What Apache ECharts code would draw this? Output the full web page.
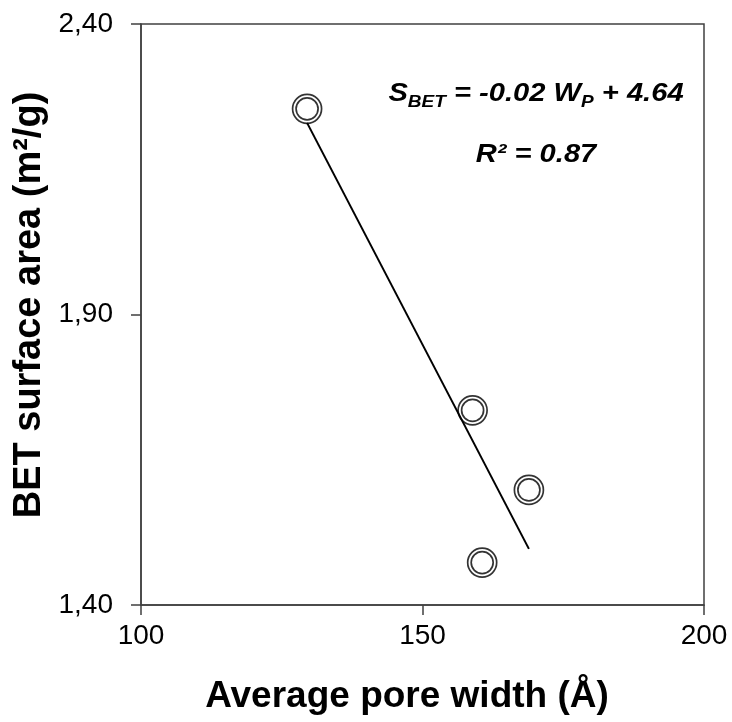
<!DOCTYPE html>
<html>
<head>
<meta charset="utf-8">
<title>BET surface area vs. average pore width</title>
<script src="https://cdn.jsdelivr.net/npm/echarts@6/dist/echarts.min.js"></script>
<style>
  html, body { margin: 0; padding: 0; background: #fff; }
  #chart { width: 732px; height: 722px; }
</style>
</head>
<body>
<div id="chart"></div>
<script>
// Measured samples: average pore width (Å) and BET surface area (m²/g)
const poreWidth = [129.5, 158.9, 168.9, 160.6];
const surfaceArea = [2.254, 1.735, 1.598, 1.473];

// Axis ticks
const xTicks = [100, 150, 200];
const yTicks = [1.40, 1.90, 2.40];

const FONT = "'Liberation Sans', Arial, Helvetica, sans-serif";
const INK = '#000';
const FRAME = '#404040';

// Least-squares linear fit of surface area against pore width
function linearFit(xs, ys) {
  const n = xs.length;
  const mx = xs.reduce((a, b) => a + b, 0) / n;
  const my = ys.reduce((a, b) => a + b, 0) / n;
  let sxy = 0, sxx = 0, syy = 0;
  for (let i = 0; i < n; i++) {
    sxy += (xs[i] - mx) * (ys[i] - my);
    sxx += (xs[i] - mx) ** 2;
    syy += (ys[i] - my) ** 2;
  }
  const slope = sxy / sxx;
  return { slope, intercept: my - slope * mx, r2: (sxy * sxy) / (sxx * syy) };
}

const fit = linearFit(poreWidth, surfaceArea);
const xMin = Math.min(...poreWidth);
const xMax = Math.max(...poreWidth);
const trend = [
  [xMin, fit.intercept + fit.slope * xMin],
  [xMax, fit.intercept + fit.slope * xMax]
];
const points = poreWidth.map((w, i) => [w, surfaceArea[i]]);

const slopeText = fit.slope.toFixed(2);
const interceptText = fit.intercept.toFixed(2);
const r2Text = fit.r2.toFixed(2);

const chart = echarts.init(document.getElementById('chart'), null, { renderer: 'canvas' });

const axisCommon = {
  type: 'value',
  axisLine: { show: true, onZero: false, lineStyle: { color: FRAME, width: 1.5 } },
  axisTick: { show: true, inside: false, length: 10, lineStyle: { color: FRAME, width: 1.5 } },
  splitLine: { show: false },
  axisLabel: { color: INK, fontSize: 28, fontFamily: FONT }
};

const annoBold = { fontFamily: FONT, fontWeight: 'bold', fontStyle: 'italic', fill: INK };

chart.setOption({
  backgroundColor: '#fff',
  animation: false,
  grid: {
    left: 141, right: 28, top: 24, bottom: 117,
    show: true, borderColor: FRAME, borderWidth: 1.5, backgroundColor: 'transparent'
  },
  xAxis: Object.assign({}, axisCommon, {
    min: xTicks[0], max: xTicks[xTicks.length - 1], interval: xTicks[1] - xTicks[0],
    axisLabel: Object.assign({}, axisCommon.axisLabel, { margin: 17 })
  }),
  yAxis: Object.assign({}, axisCommon, {
    min: yTicks[0], max: yTicks[yTicks.length - 1], interval: 0.5,
    axisLabel: Object.assign({}, axisCommon.axisLabel, {
      margin: 28,
      formatter: v => v.toFixed(2).replace('.', ',')
    })
  }),
  series: [
    {
      type: 'scatter', name: 'outer ring', data: points, symbol: 'circle', symbolSize: 29,
      itemStyle: { color: '#fff', borderColor: INK, borderWidth: 1.7 }, z: 2
    },
    {
      type: 'scatter', name: 'inner ring', data: points, symbol: 'circle', symbolSize: 22,
      itemStyle: { color: '#fff', borderColor: INK, borderWidth: 1.7 }, z: 3
    },
    {
      type: 'line', name: 'linear fit', data: trend, showSymbol: false, symbol: 'none',
      lineStyle: { color: INK, width: 2 }, z: 4, silent: true
    }
  ],
  graphic: [
    {
      type: 'text', x: 407, y: 697,
      style: {
        text: 'Average pore width (Å)', fill: INK,
        font: 'bold 37px ' + FONT, textAlign: 'center', textVerticalAlign: 'middle',
        align: 'center', verticalAlign: 'middle'
      }
    },
    {
      type: 'text', x: 30, y: 305, rotation: Math.PI / 2,
      style: {
        text: 'BET surface area (m²/g)', fill: INK,
        font: 'bold 38px ' + FONT, textAlign: 'center', textVerticalAlign: 'middle',
        align: 'center', verticalAlign: 'middle'
      }
    },
    {
      type: 'text', x: 536, y: 94, scaleX: 1.12,
      style: {
        text: '{m|S}{s|BET}{m| = ' + slopeText + ' W}{s|P}{m| + ' + interceptText + '}',
        textAlign: 'center', textVerticalAlign: 'middle', align: 'center', verticalAlign: 'middle',
        rich: {
          m: Object.assign({}, annoBold, { fontSize: 26, lineHeight: 34, verticalAlign: 'middle' }),
          s: Object.assign({}, annoBold, { fontSize: 17, lineHeight: 14, verticalAlign: 'bottom' })
        }
      }
    },
    {
      type: 'text', x: 536, y: 155, scaleX: 1.12,
      style: {
        text: '{m|R² = ' + r2Text + '}',
        textAlign: 'center', textVerticalAlign: 'middle', align: 'center', verticalAlign: 'middle',
        rich: {
          m: Object.assign({}, annoBold, { fontSize: 26, lineHeight: 34 })
        }
      }
    }
  ]
});
</script>
</body>
</html>
